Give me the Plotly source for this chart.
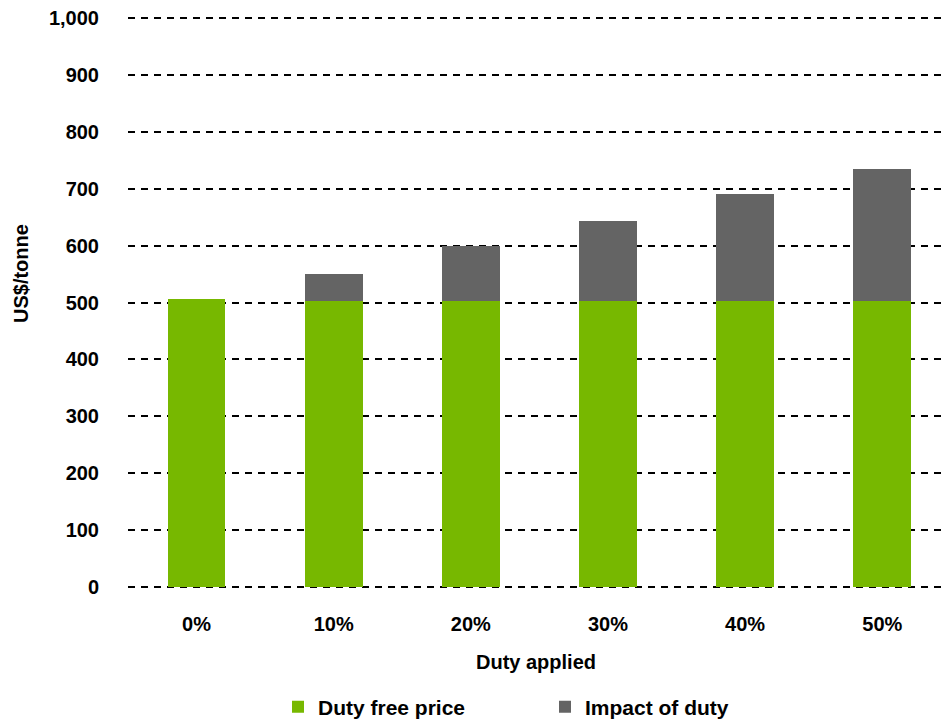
import plotly.graph_objects as go

categories = ["0%", "10%", "20%", "30%", "40%", "50%"]
duty_free_price = [506, 503, 503, 503, 503, 503]
impact_of_duty = [0, 48, 96, 140, 188, 232]
y_ticks = [0, 100, 200, 300, 400, 500, 600, 700, 800, 900, 1000]
y_tick_labels = ["0", "100", "200", "300", "400", "500", "600", "700", "800", "900", "1,000"]

FONT = "Liberation Sans"
TICKFONT = dict(family=FONT, size=20, color="black", weight="bold")
fig = go.Figure()
fig.add_trace(go.Bar(x=categories, y=duty_free_price, name="Duty free price",
                     marker=dict(color="#77B800", line=dict(width=0)), width=0.42))
fig.add_trace(go.Bar(x=categories, y=impact_of_duty, name="Impact of duty",
                     marker=dict(color="#646464", line=dict(width=0)), width=0.42))

fig.update_layout(
    barmode="stack",
    width=944, height=719,
    margin=dict(l=128, r=0, t=17, b=131, autoexpand=False),
    plot_bgcolor="white", paper_bgcolor="white",
    font=dict(family=FONT, size=20, color="black"),
    showlegend=True,
    legend=dict(orientation="h", xref="container", yref="paper",
                x=278 / 944, xanchor="left", y=(588 - 707) / 571, yanchor="middle",
                font=dict(family=FONT, size=21, color="black", weight="bold"),
                itemwidth=30, traceorder="normal", entrywidth=222),
    xaxis=dict(
        range=[-0.5, 5.45],
        showgrid=False, zeroline=False, showline=False,
        ticks="outside", ticklen=18, tickcolor="rgba(0,0,0,0)",
        tickfont=TICKFONT,
        title=dict(text="Duty applied", standoff=20, font=TICKFONT),
    ),
    yaxis=dict(
        range=[-2, 1002],
        tickvals=y_ticks, ticktext=y_tick_labels,
        showgrid=True, gridcolor="black", gridwidth=2, griddash="7px,6px",
        zeroline=False, showline=False,
        ticks="outside", ticklen=24, tickcolor="rgba(0,0,0,0)",
        tickfont=TICKFONT,
    ),
    annotations=[dict(text="US$/tonne", textangle=-90, showarrow=False,
                      xref="paper", yref="paper",
                      x=(21 - 128) / 816, y=(588 - 274) / 571,
                      xanchor="center", yanchor="middle", font=TICKFONT)],
)

fig.write_html("out.html")
